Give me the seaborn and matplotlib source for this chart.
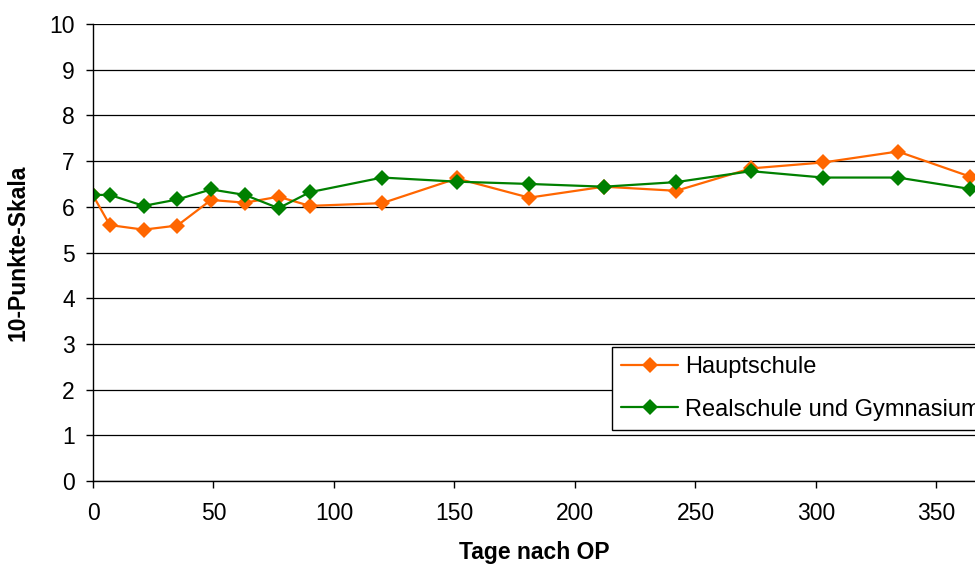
import matplotlib
matplotlib.use("Agg")
import matplotlib.pyplot as plt
import seaborn as sns
import pandas as pd

days = [0, 7, 21, 35, 49, 63, 77, 90, 120, 151, 181, 212, 242, 273, 303, 334, 364]
hauptschule = [6.25, 5.6, 5.5, 5.59, 6.15, 6.09, 6.22, 6.02, 6.08, 6.62, 6.2, 6.44, 6.35, 6.84, 6.97, 7.21, 6.66]
realschule = [6.26, 6.26, 6.02, 6.16, 6.38, 6.26, 5.97, 6.32, 6.64, 6.55, 6.5, 6.44, 6.54, 6.78, 6.64, 6.64, 6.39]
series_names = ["Hauptschule", "Realschule und Gymnasium"]
colors = ["#FF6600", "#008000"]
y_ticks = list(range(0, 11))
x_ticks = [0, 50, 100, 150, 200, 250, 300, 350]

df = pd.DataFrame({
    "Tage": days * 2,
    "Wert": hauptschule + realschule,
    "Gruppe": [series_names[0]] * len(days) + [series_names[1]] * len(days),
})

sns.set_theme(style="white")
plt.rcParams["font.family"] = ["Liberation Sans", "DejaVu Sans"]
plt.rcParams["text.color"] = "black"
plt.rcParams["axes.labelcolor"] = "black"

fig = plt.figure(figsize=(9.75, 5.66), dpi=100)
ax = fig.add_axes([93 / 975, 1 - 481 / 566, 1 - 93 / 975, (481 - 24) / 566])

sns.lineplot(data=df, x="Tage", y="Wert", hue="Gruppe", style="Gruppe",
             palette=colors, markers=["D", "D"], dashes=False,
             markersize=8, linewidth=1.6, markeredgewidth=0, ax=ax,
             legend=True)

ax.set_xlim(0, 366)
ax.set_ylim(0, 10)
ax.set_yticks(y_ticks)
ax.set_xticks(x_ticks)
ax.grid(axis="y", color="black", linewidth=0.9)
ax.grid(axis="x", visible=False)
ax.set_axisbelow(True)
for s in ["top", "right"]:
    ax.spines[s].set_visible(False)
ax.spines["left"].set_color("black")
ax.spines["bottom"].set_color("black")
ax.spines["left"].set_linewidth(1)
ax.spines["bottom"].set_linewidth(1)
ax.tick_params(axis="both", direction="out", length=5, width=1, color="black",
               labelsize=16.5, labelcolor="black", left=True, bottom=True)
ax.tick_params(axis="x", pad=10)
ax.tick_params(axis="y", pad=8)

ax.set_xlabel("Tage nach OP", fontsize=16.5, fontweight="bold", labelpad=12, color="black")
ax.set_ylabel("10-Punkte-Skala", fontsize=16.5, fontweight="bold", labelpad=14, color="black")

handles, labels = ax.get_legend_handles_labels()
leg = ax.legend(handles, labels, loc="upper left",
                bbox_to_anchor=(612 / 975, 1 - 347 / 566), bbox_transform=fig.transFigure,
                frameon=True, fancybox=False, shadow=False, fontsize=17,
                handlelength=2.4, handletextpad=0.3, labelspacing=0.85,
                borderpad=0.4, borderaxespad=0)
leg.get_frame().set_edgecolor("black")
leg.get_frame().set_linewidth(1)
leg.get_frame().set_facecolor("white")
leg.get_frame().set_alpha(1)
for t in leg.get_texts():
    t.set_color("black")

fig.savefig("out.png", dpi=100)
